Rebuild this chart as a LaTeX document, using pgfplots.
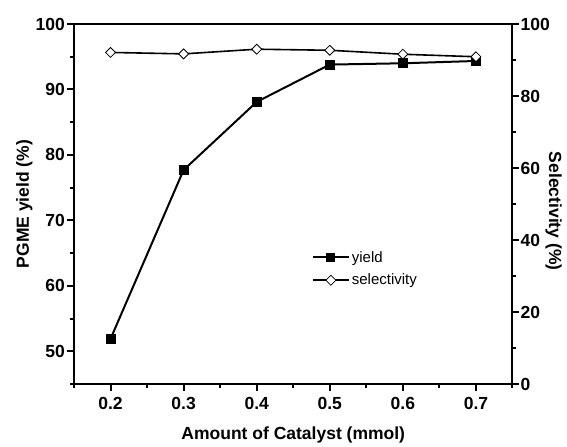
\documentclass[border=0pt]{standalone}
\usepackage{fontspec}
\setmainfont{Liberation Sans}
\usepackage{pgfplots}
\pgfplotsset{compat=1.18}

\pgfplotsset{
  catalyst base/.style={
    scale only axis, width=438.5pt, height=360pt,
    xmin=0.15, xmax=0.75,
    tick align=outside,
    axis line style={line width=2pt},
    tick style={black, line width=2pt},
    major tick length=7pt, minor tick length=4pt,
    tick label style={font=\fontsize{17.5}{20}\selectfont\bfseries},
    label style={font=\fontsize{17.5}{20}\selectfont\bfseries},
    /pgf/number format/assume math mode=true,
  },
}

\begin{document}
\begin{tikzpicture}
\begin{axis}[catalyst base,
  ymin=45, ymax=100,
  xtick={0.2,0.3,0.4,0.5,0.6,0.7},
  xticklabels={0.2,0.3,0.4,0.5,0.6,0.7},
  minor xtick={0.15,0.25,0.35,0.45,0.55,0.65,0.75},
  ytick={50,60,70,80,90,100},
  minor ytick={45,55,65,75,85,95},
  xtick pos=left, ytick pos=left,
  yticklabel style={inner sep=2pt},
  xticklabel style={yshift=-3pt},
  xlabel={Amount of Catalyst (mmol)},
  ylabel={PGME yield (\%)},
  xlabel style={at={(axis description cs:0.5,-0.153)}, anchor=base},
  ylabel style={at={(axis description cs:-0.113,0.5)}, anchor=center},
]
  \addplot[black, line width=2pt, mark=square*, mark size=4pt]
    coordinates {(0.2,51.9) (0.3,77.7) (0.4,88.1) (0.5,93.8) (0.6,94.0) (0.7,94.35)};
\end{axis}

\begin{axis}[catalyst base,
  axis x line=none, axis y line*=right,
  ymin=0, ymax=100,
  ytick={0,20,40,60,80,100},
  minor ytick={10,30,50,70,90},
  yticklabel style={inner sep=1pt},
  ylabel={Selectivity (\%)},
  ylabel style={at={(axis description cs:1.094,0.48)}, anchor=center, rotate=180},
  legend style={at={(axis description cs:0.542,0.375)}, anchor=north west,
    draw=none, fill=none, inner sep=0pt, row sep=6.5pt,
    font=\fontsize{15}{18}\selectfont},
  legend cell align=left,
  legend image code/.code={\draw[mark repeat=2, mark phase=2, #1]
    plot coordinates {(0pt,0pt) (18pt,0pt) (36pt,0pt)};},
]
  \addlegendimage{black, line width=2pt, mark=square*, mark size=3.5pt}
  \addplot[black, line width=1.6pt, mark=square*, mark size=3.5pt,
    mark options={fill=white, line width=0.8pt, rotate=45}]
    coordinates {(0.2,92.1) (0.3,91.7) (0.4,93.0) (0.5,92.7) (0.6,91.6) (0.7,90.9)};
  \legend{yield, selectivity}
\end{axis}
\path (-74pt,-58pt) rectangle (493pt,384pt);
\end{tikzpicture}
\end{document}
